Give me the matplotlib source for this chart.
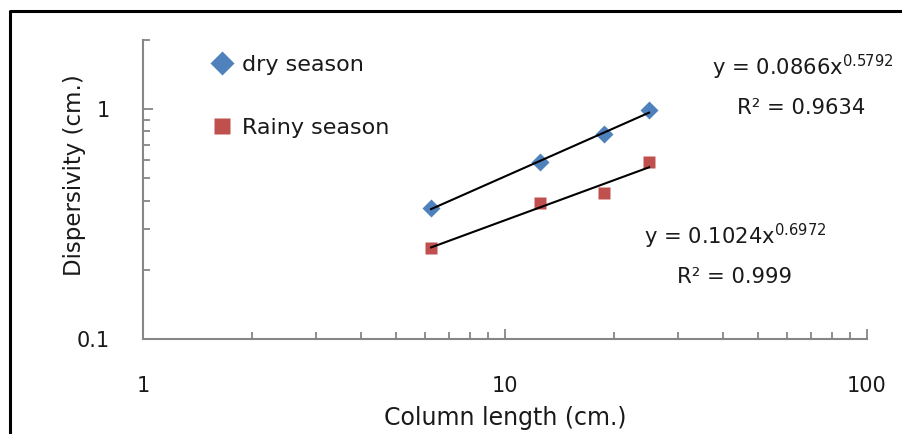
import matplotlib
matplotlib.use("Agg")
import matplotlib.pyplot as plt
import numpy as np
from matplotlib.lines import Line2D
from matplotlib.ticker import LogLocator, NullFormatter, FixedLocator, FixedFormatter

plt.rcParams['font.family'] = ['DejaVu Sans']

# Column lengths (cm) and measured dispersivity (cm)
column_length = [6.25, 12.5, 18.75, 25.0]
dry_season = [0.37, 0.59, 0.78, 0.99]
rainy_season = [0.25, 0.39, 0.43, 0.59]

# Power-law fits y = a * x^b
dry_fit = (0.1024, 0.6972)
rainy_fit = (0.0866, 0.5792)

x_ticks = [1, 10, 100]
x_tick_labels = ["1", "10", "100"]
y_ticks = [0.1, 1]
y_tick_labels = ["0.1", "1"]

W, H = 902, 434
fig = plt.figure(figsize=(W / 100, H / 100), dpi=100)
ax = fig.add_axes([143 / W, 1 - 339 / H, (867 - 143) / W, (339 - 40) / H])

blue = "#4F81BD"
red = "#C0504D"
text_col = "#1a1a1a"
axis_col = "#868686"

ax.plot(column_length, dry_season, linestyle="none", marker="D", ms=9,
        color=blue, mec="none", label="dry season", zorder=3)
ax.plot(column_length, rainy_season, linestyle="none", marker="s", ms=8.5,
        color=red, mec="none", label="Rainy season", zorder=3)

xs = np.geomspace(min(column_length), max(column_length), 50)
for a, b in (dry_fit, rainy_fit):
    ax.plot(xs, a * xs ** b, color="black", lw=1.5, zorder=4)

ax.set_xscale("log")
ax.set_yscale("log")
ax.set_xlim(1, 100)
ax.set_ylim(0.1, 2)

for s in ("top", "right"):
    ax.spines[s].set_visible(False)
for s in ("left", "bottom"):
    ax.spines[s].set_color(axis_col)
    ax.spines[s].set_linewidth(1.5)

ax.xaxis.set_major_locator(FixedLocator(x_ticks))
ax.xaxis.set_major_formatter(FixedFormatter(x_tick_labels))
ax.yaxis.set_major_locator(FixedLocator(y_ticks))
ax.yaxis.set_major_formatter(FixedFormatter(y_tick_labels))
ax.xaxis.set_minor_locator(LogLocator(base=10, subs=np.arange(2, 10)))
ax.yaxis.set_minor_locator(LogLocator(base=10, subs=np.arange(2, 10)))
ax.xaxis.set_minor_formatter(NullFormatter())
ax.yaxis.set_minor_formatter(NullFormatter())

ax.tick_params(which="both", direction="in", color=axis_col, width=1.3,
               labelcolor=text_col, labelsize=15)
ax.tick_params(which="major", length=7)
ax.tick_params(which="minor", length=5)
ax.tick_params(axis="x", which="major", pad=27)
ax.tick_params(axis="y", which="major", pad=24)

ax.set_xlabel("Column length (cm.)", fontsize=17, color=text_col)
ax.xaxis.label.set_verticalalignment("baseline")
ax.xaxis.set_label_coords(0.5, -(425 - 339) / 299)

# y-axis title placed explicitly in figure pixels
fig.text(75 / W, 1 - 175 / H, "Dispersivity (cm.)", rotation=90,
         ha="center", va="center", fontsize=16.5, color=text_col)

leg = ax.legend(loc="upper left", bbox_to_anchor=(193 / W, 1 - 44 / H),
                bbox_transform=fig.transFigure, frameon=False, fontsize=16,
                labelspacing=1.92, handletextpad=0.12, markerscale=1.35,
                handlelength=1.6, borderpad=0)
for t in leg.get_texts():
    t.set_color(text_col)

eq_kw = dict(fontsize=15.2, color=text_col, va="center", ha="left")
fig.text(712 / W, 1 - 67 / H,
         r"y = 0.0866x$^{\mathregular{0.5792}}$", **eq_kw)
fig.text(737 / W, 1 - 108 / H, "R² = 0.9634", **eq_kw)
fig.text(644 / W, 1 - 236 / H,
         r"y = 0.1024x$^{\mathregular{0.6972}}$", **eq_kw)
fig.text(677 / W, 1 - 277 / H, "R² = 0.999", **eq_kw)

# Chart area frame
fx, fy = 10 / W, 1 - 11 / H
fig.add_artist(Line2D([fx, fx, 1.0], [0.0, fy, fy], transform=fig.transFigure,
                      color="black", lw=2.2))

fig.savefig("out.png", dpi=100)
